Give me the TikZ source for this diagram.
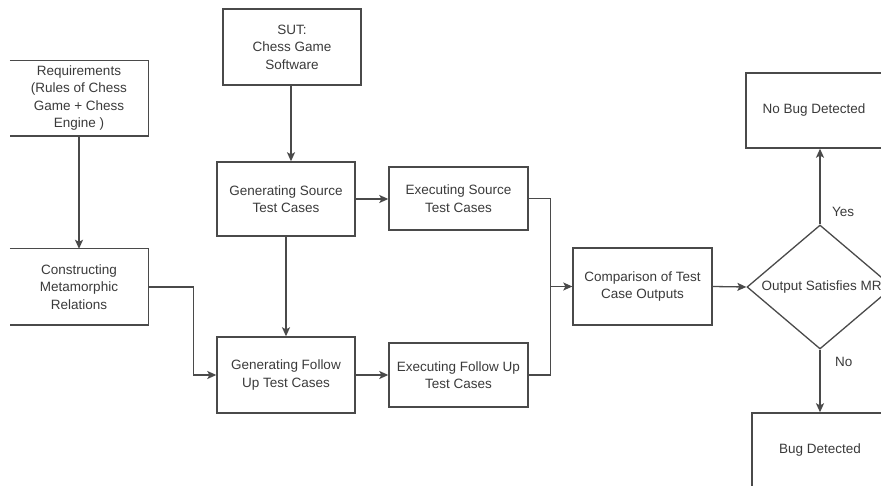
\documentclass[tikz,border=0pt]{standalone}
\usepackage{fontspec}
\setmainfont{Liberation Sans}
\usetikzlibrary{arrows.meta,shapes.geometric,calc}
\definecolor{inkline}{HTML}{4A4A4A}
\definecolor{inktext}{HTML}{3A3A3A}
\tikzset{
  every node/.style={text=inktext, font=\fontsize{13.5}{17.5}\selectfont, align=center, inner sep=0pt},
  box/.style={draw=inkline, line width=1.4pt, rectangle},
  openbox/.style={rectangle},
  side/.style={draw=inkline, line width=1.4pt},
  flow/.style={draw=inkline, line width=1.3pt, -{Stealth[length=9pt,width=8pt,inset=2pt]}},
  plain/.style={draw=inkline, line width=1.3pt},
  decision/.style={diamond, draw=inkline, line width=1.3pt, minimum width=146pt, minimum height=124pt},
}
\begin{document}
\begin{tikzpicture}[x=1pt,y=-1pt]
\useasboundingbox (0,0) rectangle (881,486);
\clip (0,0) rectangle (881,486);

% input boxes on the left, whose left sides fall outside the page
\node[openbox, minimum width=138pt, minimum height=75.5pt] (req) at (79,98.25)
  {Requirements\\(Rules of Chess\\Game + Chess\\Engine )};
\draw[side] (req.north west) -- (req.north east) -- (req.south east) -- (req.south west);
\node[openbox, minimum width=138pt, minimum height=76pt] (cmr) at (79,287)
  {Constructing\\Metamorphic\\Relations};
\draw[side] (cmr.north west) -- (cmr.north east) -- (cmr.south east) -- (cmr.south west);

% system under test and test generation / execution
\node[box, minimum width=138pt, minimum height=76pt] (sut) at (292,47)
  {SUT:\\Chess Game\\Software};
\node[box, minimum width=138pt, minimum height=74pt] (gsrc) at (286,199)
  {Generating Source\\Test Cases};
\node[box, minimum width=139pt, minimum height=63pt] (esrc) at (458.5,198.5)
  {Executing Source\\Test Cases};
\node[box, minimum width=138pt, minimum height=76pt] (gfu) at (286,375)
  {Generating Follow\\Up Test Cases};
\node[box, minimum width=139pt, minimum height=64pt] (efu) at (458.5,375)
  {Executing Follow Up\\Test Cases};

% comparison and decision
\node[box, minimum width=139pt, minimum height=77pt] (cmp) at (642.5,286.5)
  {Comparison of Test\\Case Outputs};
\node[decision] (dia) at (820,287) {};
\node[anchor=west] (dialbl) at (761.5,287) {Output Satisfies MR};

% outcomes
\node[box, minimum width=136pt, minimum height=75pt] (nobug) at (814,110.5) {No Bug Detected};
\node[box, minimum width=136pt, minimum height=75pt] (bug) at (820,450.5) {Bug Detected};

% connectors
\draw[flow] (sut.south -| 291,0) -- (gsrc.north -| 291,0);
\draw[flow] (req.south) -- (cmr.north);
\draw[flow] (gsrc.east) -- (gsrc.east -| esrc.west);
\draw[flow] (gsrc.south) -- (gfu.north);
\draw[flow] (cmr.east) -- ++(45,0) |- (gfu.west);
\draw[flow] (gfu.east) -- (gfu.east -| efu.west);
\draw[plain] (esrc.east) -- ++(22,0) |- (cmp.west);
\draw[flow] (efu.east) -- ++(22,0) |- (cmp.west);
\draw[flow] (cmp.east) -- (dia.west);
\draw[flow] (dia.north) -- (dia.north |- nobug.south);
\draw[flow] (dia.south) -- (dia.south |- bug.north);

% branch labels
\node[anchor=west] (yes) at (832,212) {Yes};
\node[anchor=west] (no) at (835,362) {No};
\end{tikzpicture}
\end{document}
